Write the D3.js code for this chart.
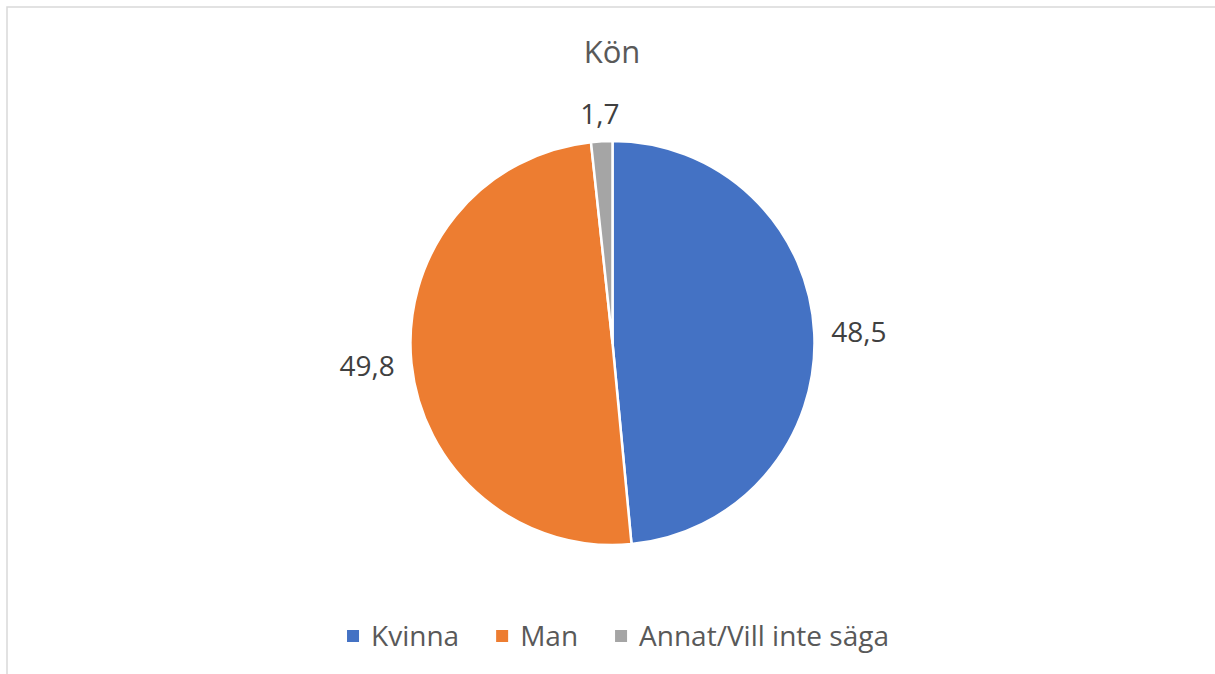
<!DOCTYPE html>
<html>
<head>
<meta charset="utf-8">
<script src="https://cdn.jsdelivr.net/npm/d3@7"></script>
<style>
  body { margin: 0; background: #fff; }
  text { font-family: "Open Sans", "Liberation Sans", Arial, sans-serif; }
</style>
</head>
<body>
<div id="pie"></div>
<script>
// Data
const categories = ["Kvinna", "Man", "Annat/Vill inte säga"];
const values = [48.5, 49.8, 1.7];
const colors = ["#4472c4", "#ed7d31", "#a5a5a5"];
const title = "Kön";

const width = 1215,
  height = 674;

const svg = d3
  .select("#pie")
  .append("svg")
  .attr("width", width)
  .attr("height", height)
  .attr("viewBox", [0, 0, width, height]);

// chart area border (runs off the right and bottom of the picture)
svg
  .append("rect")
  .attr("x", 7)
  .attr("y", 7)
  .attr("width", width)
  .attr("height", height)
  .attr("fill", "none")
  .attr("stroke", "#d9d9d9")
  .attr("stroke-width", 1.5);

// Title
svg
  .append("text")
  .attr("x", 612)
  .attr("y", 63)
  .attr("text-anchor", "middle")
  .attr("fill", "#595959")
  .style("font-size", "31px")
  .text(title);

const cx = 612.5,
  cy = 343,
  radius = 202;

const data = categories.map((c, i) => ({ name: c, value: values[i] }));

const color = d3.scaleOrdinal().domain(categories).range(colors);

const pie = d3
  .pie()
  .sort(null)
  .value((d) => d.value);

const arc = d3.arc().innerRadius(0).outerRadius(radius);

const g = svg.append("g").attr("transform", `translate(${cx},${cy})`);

const arcs = pie(data);

g.selectAll("path")
  .data(arcs)
  .join("path")
  .attr("d", arc)
  .attr("fill", (d) => color(d.data.name))
  .attr("stroke", "#fff")
  .attr("stroke-width", 2.5)
  .attr("stroke-linejoin", "round");

// Data labels placed outside the pie edge, like Excel's best fit
const gap = 17;
const fmt = (v) => String(v).replace(".", ",");

g.selectAll("text.lbl")
  .data(arcs)
  .join("text")
  .attr("class", "lbl")
  .attr("fill", "#404040")
  .style("font-size", "28px")
  .attr("text-anchor", "middle")
  .text((d) => fmt(d.data.value))
  .each(function (d) {
    const a = (d.startAngle + d.endAngle) / 2;
    const w = this.getComputedTextLength(),
      h = 20; // digit height
    const px = (radius + gap) * Math.sin(a) + (Math.sin(a) * w) / 2;
    const py = -(radius + gap) * Math.cos(a) - (Math.cos(a) * h) / 2;
    d3.select(this)
      .attr("x", px)
      .attr("y", py + h / 2);
  });

// Legend
const legend = svg.append("g");
const box = 12,
  boxGap = 12,
  itemGap = 37;
let xPos = 0;
categories.forEach((c) => {
  const item = legend.append("g").attr("transform", `translate(${xPos},0)`);
  item
    .append("rect")
    .attr("x", 0)
    .attr("y", -box / 2 - 3)
    .attr("width", box)
    .attr("height", box)
    .attr("fill", color(c));
  const t = item
    .append("text")
    .attr("x", box + boxGap)
    .attr("y", 7)
    .attr("fill", "#595959")
    .style("font-size", "28px")
    .text(c);
  xPos += box + boxGap + t.node().getComputedTextLength() + itemGap;
});
const legendWidth = xPos - itemGap;
legend.attr("transform", `translate(${618 - legendWidth / 2},${639})`);
</script>
</body>
</html>
